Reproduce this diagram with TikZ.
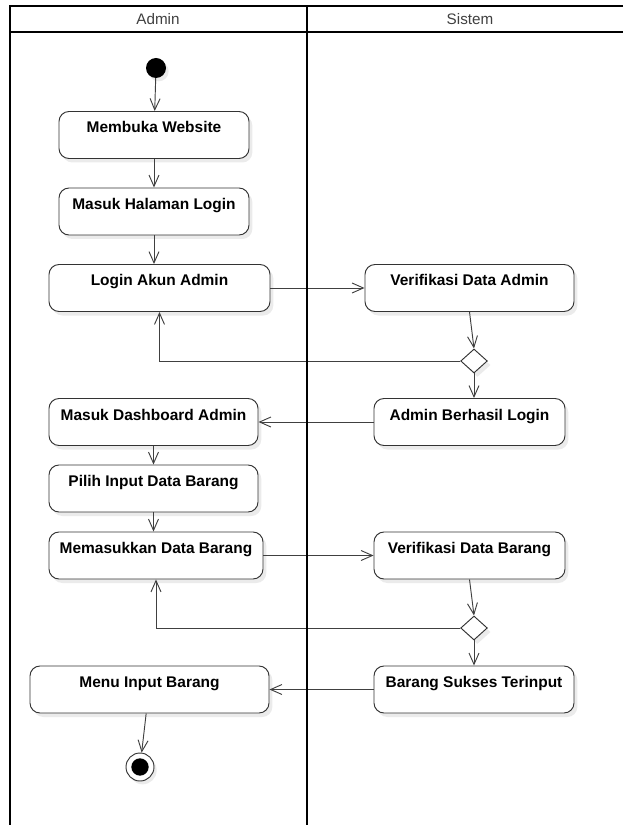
\documentclass[tikz,border=0pt]{standalone}
\usepackage{fontspec}
\setmainfont{Liberation Sans}
\usetikzlibrary{shapes.geometric,arrows.meta,shadows}
\begin{document}
\begin{tikzpicture}[x=0.03cm,y=-0.03cm,
	act/.style={draw=black!80,line width=0.8pt,rounded corners=0.3cm,fill=white,font=\fontsize{13.2}{15}\selectfont\bfseries,text height=0.345cm,text depth=0.465cm,inner ysep=0.3cm,inner xsep=0pt,drop shadow={shadow xshift=0.1cm,shadow yshift=-0.12cm,fill=black!8,opacity=1}},
	dec/.style={diamond,draw=black!80,line width=0.8pt,fill=white,minimum width=0.8cm,minimum height=0.72cm,inner sep=0pt,drop shadow={shadow xshift=0.1cm,shadow yshift=-0.12cm,fill=black!8,opacity=1}},
	flow/.style={draw=black!75,line width=0.8pt,-{Straight Barb[length=0.34cm,width=0.3cm]}},
	lane/.style={font=\fontsize{13}{15}\selectfont,text=black!75}]
		\useasboundingbox (0,0) rectangle (623,825);
		\draw[line width=1.8pt](623,6)--(10,6)--(10,825);
		\draw[line width=1.2pt](10,32)--(623,32);
		\node[lane] (hAdmin) at (158,19) {Admin};
		\node[lane] (hSistem) at (470,19) {Sistem};
		\node[circle,fill=black,minimum size=0.6cm,inner sep=0pt,drop shadow={shadow xshift=0.08cm,shadow yshift=-0.1cm,fill=black!8,opacity=1}] (start) at (156,68) {};
		\node[act,minimum width=5.7cm] (buka) at (154,135) {Membuka Website};
		\node[act,minimum width=5.7cm] (halLogin) at (154,211.5) {Masuk Halaman Login};
		\node[act,minimum width=6.63cm] (login) at (159.5,288) {Login Akun Admin};
		\node[act,minimum width=6.27cm] (verAdmin) at (469.5,288) {Verifikasi Data Admin};
		\node[dec] (dec1) at (474,361) {};
		\node[act,minimum width=5.73cm] (berhasil) at (469.5,422) {Admin Berhasil Login};
		\node[act,minimum width=6.27cm] (dash) at (153.5,422) {Masuk Dashboard Admin};
		\node[act,minimum width=6.27cm] (pilih) at (153.5,488.5) {Pilih Input Data Barang};
		\node[act,minimum width=6.42cm] (masuk) at (156,555.5) {Memasukkan Data Barang};
		\node[act,minimum width=5.73cm] (verBarang) at (469.5,555.5) {Verifikasi Data Barang};
		\node[dec] (dec2) at (474,628) {};
		\node[act,minimum width=6cm] (sukses) at (474,689.5) {Barang Sukses Terinput};
		\node[act,minimum width=7.17cm] (menu) at (149.5,689.5) {Menu Input Barang};
		\node[circle,draw=black!80,line width=0.8pt,fill=white,minimum size=0.84cm,inner sep=0pt,drop shadow={shadow xshift=0.08cm,shadow yshift=-0.1cm,fill=black!8,opacity=1}] (end) at (140,767) {};
		\fill (end.center) circle (0.26cm);
		\draw[flow](start)--(buka);
		\draw[flow](buka)--(halLogin);
		\draw[flow](halLogin.south)--(halLogin.south|-login.north);
		\draw[flow](login)--(verAdmin);
		\draw[flow](verAdmin.south)--(dec1.north);
		\draw[flow](dec1.west)-|(login.south);
		\draw[flow](dec1.south)--(dec1.south|-berhasil.north);
		\draw[flow](berhasil)--(dash);
		\draw[flow](dash)--(pilih);
		\draw[flow](pilih.south)--(pilih.south|-masuk.north);
		\draw[flow](masuk)--(verBarang);
		\draw[flow](verBarang.south)--(dec2.north);
		\draw[flow](dec2.west)-|(masuk.south);
		\draw[flow](dec2)--(sukses);
		\draw[flow](sukses)--(menu);
		\draw[flow]([xshift=-0.1cm]menu.south)--(end);
		\draw[line width=2.2pt](307,6)--(307,825);
	    \end{tikzpicture}
\end{document}
